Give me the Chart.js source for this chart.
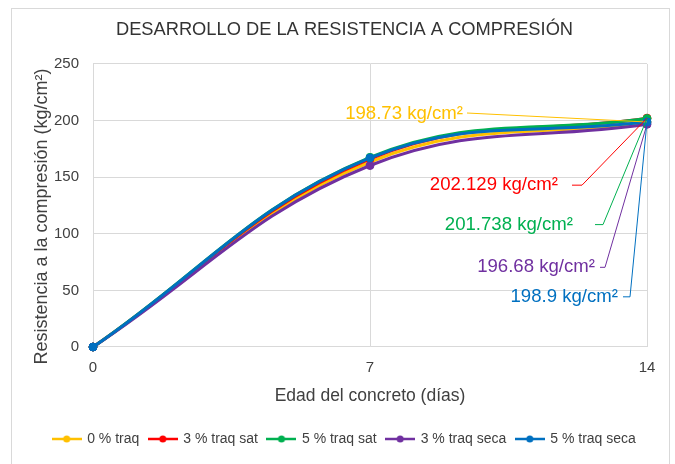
<!DOCTYPE html>
<html>
<head>
<meta charset="utf-8">
<script src="https://cdn.jsdelivr.net/npm/chart.js@4.4.1/dist/chart.umd.min.js"></script>
<style>
  html, body { margin: 0; padding: 0; background: #fff; }
  #wrap { width: 675px; height: 464px; }
</style>
</head>
<body>
<div id="wrap"><canvas id="chart"></canvas></div>
<script>
// edad del concreto (días) y resistencia (kg/cm²)
const DAYS = [0, 7, 14];
const SERIES = ['0 % traq', '3 % traq sat', '5 % traq sat', '3 % traq seca', '5 % traq seca'];
const TRAQ_0 = [0, 163.4, 198.73];
const TRAQ_3_SAT = [0, 166.1, 202.129];
const TRAQ_5_SAT = [0, 167.5, 201.738];
const TRAQ_3_SECA = [0, 160.3, 196.68];
const TRAQ_5_SECA = [0, 167.0, 198.9];
const X_TICKS = [0, 7, 14];
const Y_TICKS = [0, 50, 100, 150, 200, 250];

const VALUES = [TRAQ_0, TRAQ_3_SAT, TRAQ_5_SAT, TRAQ_3_SECA, TRAQ_5_SECA];
const COLORS = ['#FFC000', '#FF0000', '#00B050', '#7030A0', '#0070C0'];

// posición de las etiquetas de 14 días, relativa al punto (px)
const LABEL_LAYOUT = [
    { dx: -184, dy: -8, elbow: null },
    { dx: -89, dy: 67, elbow: [-75, -65] },
    { dx: -74, dy: 106, elbow: [-52, -44] },
    { dx: -52, dy: 143, elbow: [-47, -42] },
    { dx: -29, dy: 175, elbow: [-24, -17] }
];

const FONT = '"Liberation Sans", Arial, sans-serif';

/**
 * marca de la leyenda: línea corta con un punto al centro
 */
function legendMark(color) {
    const c = document.createElement('canvas');
    c.width = 30;
    c.height = 10;
    const g = c.getContext('2d');
    g.strokeStyle = color;
    g.lineWidth = 2.5;
    g.beginPath();
    g.moveTo(0, 5);
    g.lineTo(30, 5);
    g.stroke();
    g.fillStyle = color;
    g.beginPath();
    g.arc(15, 5, 3.5, 0, Math.PI * 2);
    g.fill();
    return c;
}

const frame = {
    id: 'frame',
    beforeDraw(chart) {
        const ctx = chart.ctx;
        ctx.save();
        ctx.strokeStyle = '#d9d9d9';
        ctx.lineWidth = 1;
        ctx.strokeRect(11.5, 8.5, 658, 470);
        ctx.restore();
    }
};

const endLabels = {
    id: 'endLabels',
    afterDatasetsDraw(chart) {
        const ctx = chart.ctx;
        ctx.save();
        ctx.font = '18.6px ' + FONT;
        ctx.textAlign = 'right';
        ctx.textBaseline = 'middle';
        VALUES.forEach((vals, i) => {
            const pt = chart.getDatasetMeta(i).data[vals.length - 1];
            const lay = LABEL_LAYOUT[i];
            const ty = pt.y + lay.dy;
            ctx.fillStyle = COLORS[i];
            ctx.fillText(vals[vals.length - 1] + ' kg/cm²', pt.x + lay.dx, ty);
            ctx.strokeStyle = COLORS[i];
            ctx.lineWidth = 1;
            ctx.beginPath();
            if (lay.elbow) {
                ctx.moveTo(pt.x + lay.elbow[0], ty);
                ctx.lineTo(pt.x + lay.elbow[1], ty);
            } else {
                ctx.moveTo(pt.x + lay.dx + 4, ty - 1);
            }
            ctx.lineTo(pt.x, pt.y);
            ctx.stroke();
        });
        ctx.restore();
    }
};

const yTitle = {
    id: 'yTitle',
    afterDraw(chart) {
        const ctx = chart.ctx;
        const y = chart.scales.y;
        ctx.save();
        ctx.translate(42.5, (y.top + y.bottom) / 2 + 11);
        ctx.rotate(-Math.PI / 2);
        ctx.font = '18px ' + FONT;
        ctx.fillStyle = '#404040';
        ctx.textAlign = 'center';
        ctx.textBaseline = 'middle';
        ctx.fillText('Resistencia a la compresión (kg/cm²)', 0, 0);
        ctx.restore();
    }
};

const datasets = SERIES.map((name, i) => ({
    label: name,
    data: DAYS.map((d, k) => ({ x: d, y: VALUES[i][k] })),
    borderColor: COLORS[i],
    backgroundColor: COLORS[i],
    borderWidth: 3,
    pointRadius: 4,
    pointBorderWidth: 1,
    pointBackgroundColor: COLORS[i],
    pointBorderColor: COLORS[i],
    tension: 0.4,
    clip: false,
    order: SERIES.length - 1 - i
}));

new Chart(document.getElementById('chart'), {
    type: 'line',
    data: { datasets: datasets },
    options: {
        responsive: true,
        maintainAspectRatio: false,
        animation: false,
        layout: { padding: { left: 26, right: 12, top: 0, bottom: 8 } },
        scales: {
            x: {
                type: 'linear',
                min: 0,
                max: 14,
                afterBuildTicks: scale => { scale.ticks = X_TICKS.map(v => ({ value: v })); },
                afterFit: scale => {
                    scale.height = 75;
                    scale.paddingLeft = 0;
                    scale.paddingRight = 0;
                },
                grid: { color: '#d9d9d9', drawTicks: false },
                border: { color: '#d9d9d9' },
                ticks: { padding: 12, color: '#404040', font: { family: FONT, size: 15 } },
                title: {
                    display: true,
                    text: 'Edad del concreto (días)',
                    color: '#404040',
                    font: { family: FONT, size: 17.5 },
                    padding: { top: 0, bottom: 15 }
                }
            },
            y: {
                min: 0,
                max: 250,
                afterBuildTicks: scale => { scale.ticks = Y_TICKS.map(v => ({ value: v })); },
                afterFit: scale => {
                    scale.width = 67;
                    scale.paddingTop = 0;
                    scale.paddingBottom = 0;
                },
                grid: { color: '#d9d9d9', drawTicks: false },
                border: { color: '#d9d9d9' },
                ticks: { padding: 14, color: '#404040', font: { family: FONT, size: 15 } }
            },
            // margen derecho vacío, solo reserva espacio
            gap: {
                type: 'linear',
                position: 'right',
                grid: { display: false, drawTicks: false },
                border: { display: false },
                ticks: { display: false },
                afterFit: scale => { scale.width = 16; }
            }
        },
        plugins: {
            title: {
                display: true,
                text: 'DESARROLLO DE LA RESISTENCIA A COMPRESIÓN',
                color: '#333333',
                font: { family: FONT, size: 18.3, weight: 'normal' },
                padding: { top: 19, bottom: 23 }
            },
            legend: {
                position: 'bottom',
                labels: {
                    usePointStyle: true,
                    pointStyleWidth: 27,
                    padding: 10,
                    color: '#404040',
                    font: { family: FONT, size: 14 },
                    sort: (a, b) => a.datasetIndex - b.datasetIndex,
                    generateLabels: chart => Chart.defaults.plugins.legend.labels.generateLabels(chart)
                        .map(item => Object.assign(item, { pointStyle: legendMark(COLORS[item.datasetIndex]) }))
                }
            },
            tooltip: { enabled: false }
        }
    },
    plugins: [frame, endLabels, yTitle]
});
</script>
</body>
</html>
